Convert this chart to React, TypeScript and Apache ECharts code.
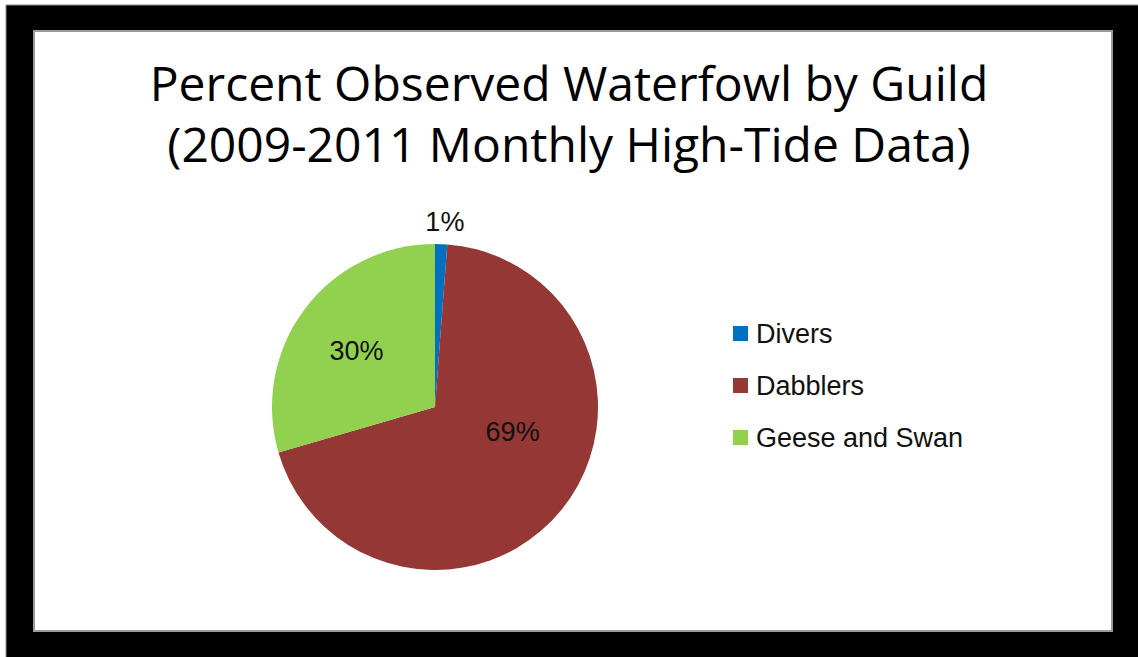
import React, { useEffect, useRef } from "react";
import * as echarts from "echarts";

const titleLines = ["Percent Observed Waterfowl by Guild", "(2009-2011 Monthly High-Tide Data)"];
const categories = ["Divers", "Dabblers", "Geese and Swan"];
const percentValues = [1.2, 69.3, 29.5];
const sliceColors = ["#0070C0", "#953735", "#92D050"];
// small nudges of the data labels, to mimic Excel's best-fit placement
const labelNudges = [
  [-21, -16],
  [12, -28],
  [-11, -5],
];

export default function App() {
  const ref = useRef<HTMLDivElement>(null);
  useEffect(() => {
    if (!ref.current) return;
    const chart = echarts.init(ref.current, null, { renderer: "svg" });
    const data = categories.map((name, i) => ({
      name,
      value: percentValues[i],
      itemStyle: { color: sliceColors[i] },
      label:
        i === 0
          ? { position: "outside" as const }
          : { position: "inside" as const },
      labelLine: { show: false, length: 6, length2: 0 },
    }));
    chart.setOption({
      animation: false,
      backgroundColor: "#ffffff",
      graphic: [
        {
          type: "rect",
          shape: { x: 6, y: 5, width: 1140, height: 660 },
          style: { fill: "#000000", stroke: "#8a8a8a", lineWidth: 1 },
          z: 0,
        },
        {
          type: "rect",
          shape: { x: 34, y: 31, width: 1078, height: 600 },
          style: { fill: "#ffffff", stroke: "#9a9a9a", lineWidth: 2 },
          z: 0,
        },
      ],
      title: {
        text: titleLines.join("\n"),
        left: "center",
        top: 52,
        padding: [0, 0, 0, 18],
        textStyle: {
          fontFamily: "Open Sans",
          fontSize: 48,
          fontWeight: "normal",
          lineHeight: 61,
          color: "#000000",
        },
      },
      legend: {
        orient: "vertical",
        left: 733,
        top: 320,
        padding: 0,
        itemWidth: 15,
        itemHeight: 15,
        itemGap: 25,
        icon: "rect",
        data: categories,
        textStyle: {
          fontFamily: "Liberation Sans",
          fontSize: 27,
          lineHeight: 27,
          color: "#111111",
          padding: [0, 0, 0, 3],
        },
      },
      series: [
        {
          type: "pie",
          center: [435, 407],
          radius: 163,
          startAngle: 90,
          clockwise: true,
          data,
          label: {
            show: true,
            formatter: (p: any) => Math.round(p.percent) + "%",
            fontFamily: "Liberation Sans",
            fontSize: 27,
            color: "#111111",
          },
          labelLayout: (p: any) => ({
            dx: labelNudges[p.dataIndex][0],
            dy: labelNudges[p.dataIndex][1],
          }),
          itemStyle: { borderWidth: 0 },
          emphasis: { disabled: true },
        },
      ],
    });
    return () => chart.dispose();
  }, []);
  return (
    <div
      ref={ref}
      style={{ position: "fixed", left: 0, top: 0, width: 1138, height: 657 }}
    />
  );
}
